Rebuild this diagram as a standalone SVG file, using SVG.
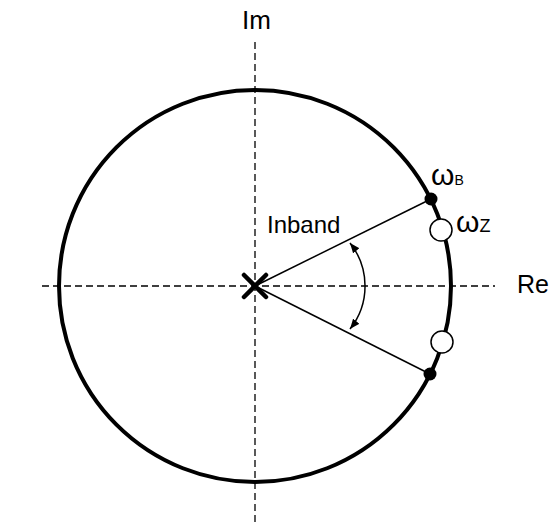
<svg xmlns="http://www.w3.org/2000/svg" width="558" height="526" viewBox="0 0 558 526">
<style>
.axis{stroke:#000;stroke-width:1.3;stroke-dasharray:7 4;fill:none}
.ray{stroke:#000;stroke-width:1.5;fill:none}
.lbl{font-family:"Liberation Sans",Arial,sans-serif;fill:#000}
</style>
<defs>
<marker id="ah" viewBox="0 0 10 8" refX="10" refY="4" markerWidth="10" markerHeight="8" markerUnits="userSpaceOnUse" orient="auto-start-reverse">
<path d="M0,0 L10,4 L0,8 Z" fill="#000"/>
</marker>
</defs>
<rect width="558" height="526" fill="#fff"/>
<g id="axes">
<line class="axis" x1="255" y1="42" x2="255" y2="526"/>
<line class="axis" x1="42" y1="286" x2="495" y2="286"/>
</g>
<g id="unit-circle">
<circle cx="255" cy="286" r="196" fill="none" stroke="#000" stroke-width="4"/>
</g>
<g id="connectors">
<line class="ray" x1="255" y1="286" x2="431" y2="199"/>
<line class="ray" x1="255" y1="286" x2="430" y2="374"/>
<path d="M350,243 A69,69 0 0 1 350,329" fill="none" stroke="#000" stroke-width="1.5" marker-start="url(#ah)" marker-end="url(#ah)"/>
</g>
<g id="pole">
<path d="M244,275 L266,297 M266,275 L244,297" stroke="#000" stroke-width="4.5" stroke-linecap="round"/>
</g>
<g id="omegaB-upper"><circle cx="431" cy="199" r="6.5" fill="#000"/></g>
<g id="omegaB-lower"><circle cx="430" cy="374" r="6.5" fill="#000"/></g>
<g id="omegaZ-upper"><circle cx="441" cy="230" r="11" fill="#fff" stroke="#000" stroke-width="1.5"/></g>
<g id="omegaZ-lower"><circle cx="442" cy="342" r="11" fill="#fff" stroke="#000" stroke-width="1.5"/></g>
<g id="labels">
<text class="lbl" x="242" y="29" font-size="26">Im</text>
<text class="lbl" x="517" y="293" font-size="25">Re</text>
<text class="lbl" x="267" y="233" font-size="24">Inband</text>
<text class="lbl" x="431" y="185" font-size="30">ω<tspan font-size="14">B</tspan></text>
<text class="lbl" x="456" y="232" font-size="30">ω<tspan font-size="18">Z</tspan></text>
</g>
</svg>
